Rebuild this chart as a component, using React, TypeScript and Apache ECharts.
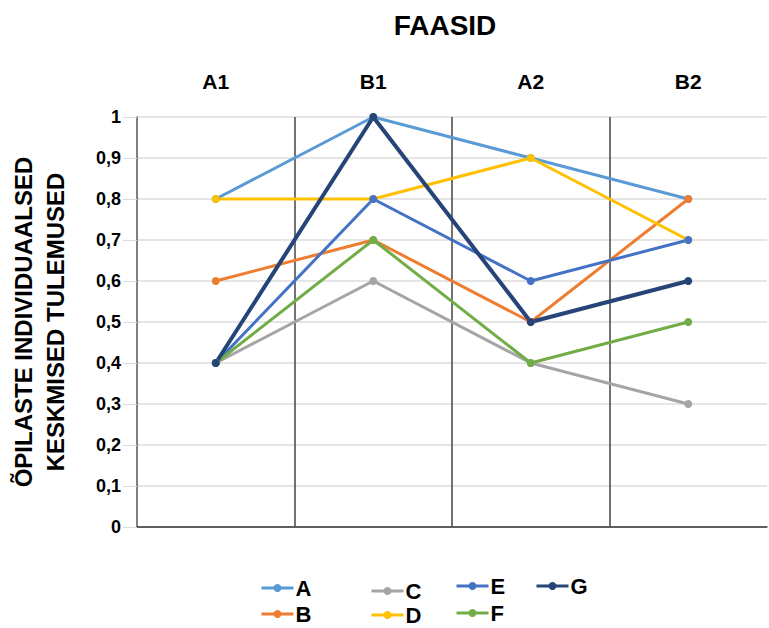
import React, { useEffect, useRef } from "react";
import * as echarts from "echarts";

const categories = ["A1", "B1", "A2", "B2"];
const seriesNames = ["A", "B", "C", "D", "E", "F", "G"];
const valuesA = [0.8, 1.0, 0.9, 0.8];
const valuesB = [0.6, 0.7, 0.5, 0.8];
const valuesC = [0.4, 0.6, 0.4, 0.3];
const valuesD = [0.8, 0.8, 0.9, 0.7];
const valuesE = [0.4, 0.8, 0.6, 0.7];
const valuesF = [0.4, 0.7, 0.4, 0.5];
const valuesG = [0.4, 1.0, 0.5, 0.6];
const colors = ["#5B9BD5", "#ED7D31", "#A5A5A5", "#FFC000", "#4472C4", "#70AD47", "#264478"];
const widths = [3, 3, 3, 3, 3, 3, 4];

const FONT = "'Liberation Sans', Arial, sans-serif";

export default function App() {
  const ref = useRef<HTMLDivElement>(null);
  useEffect(() => {
    if (!ref.current) return;
    const chart = echarts.init(ref.current, null, { renderer: "svg" });
    const allValues = [valuesA, valuesB, valuesC, valuesD, valuesE, valuesF, valuesG];
    const splitColors = ["#555555"].concat(new Array(10).fill("#dcdcdc"));
    // legend item placement (icon left x, text centre y)
    const legendX = [260, 260, 370, 370, 455, 455, 535];
    const legendY = [588, 614, 591, 615, 586, 613, 586];
    chart.setOption({
      animation: false,
      textStyle: { fontFamily: FONT },
      title: {
        text: "FAASID",
        left: 440,
        textAlign: "center",
        top: 6,
        textStyle: { fontFamily: FONT, fontWeight: "bold", fontSize: 28, color: "#000" },
      },
      legend: seriesNames.map((n, i) => ({
        data: [n],
        left: legendX[i],
        top: legendY[i] - 11,
        padding: 0,
        itemWidth: 32,
        itemHeight: 10,
        lineStyle: { width: 3 },
        textStyle: { fontFamily: FONT, fontWeight: "bold", fontSize: 22, color: "#000", padding: [0, 0, 0, -3] },
      })),
      grid: { left: 137, right: 2, top: 117, bottom: 101, outerBoundsMode: "none", containLabel: false },
      xAxis: {
        type: "category",
        position: "top",
        data: categories,
        boundaryGap: true,
        axisLine: { show: true, lineStyle: { color: "#555555", width: 1.5 } },
        axisTick: { show: false },
        axisLabel: { fontFamily: FONT, fontWeight: "bold", fontSize: 21, color: "#000", margin: 25 },
        splitLine: { show: true, showMinLine: false, showMaxLine: false, lineStyle: { color: "#444444", width: 1.5 } },
      },
      yAxis: {
        type: "value",
        min: 0,
        max: 1,
        interval: 0.1,
        name: "ÕPILASTE INDIVIDUAALSED\nKESKMISED TULEMUSED",
        nameLocation: "middle",
        nameRotate: 90,
        nameGap: 66,
        nameTextStyle: { fontFamily: FONT, fontWeight: "bold", fontSize: 24, color: "#000", lineHeight: 32 },
        axisLine: { show: true, lineStyle: { color: "#555555", width: 1.5 } },
        axisTick: { show: true, length: 14, lineStyle: { color: "#dcdcdc" } },
        axisLabel: {
          fontFamily: FONT,
          fontWeight: "bold",
          fontSize: 18,
          color: "#000",
          margin: 16,
          formatter: (v: number) => String(Math.round(v * 10) / 10).replace(".", ","),
        },
        splitLine: { show: true, lineStyle: { color: splitColors, width: 1.5 } },
      },
      series: seriesNames.map((n, i) => ({
        name: n,
        type: "line",
        data: allValues[i],
        color: colors[i],
        symbol: "circle",
        symbolSize: 8,
        lineStyle: { width: widths[i], color: colors[i] },
        itemStyle: { color: colors[i] },
      })),
    });
    return () => chart.dispose();
  }, []);
  return <div ref={ref} style={{ width: 769, height: 628, position: "absolute", left: 0, top: 0 }} />;
}
